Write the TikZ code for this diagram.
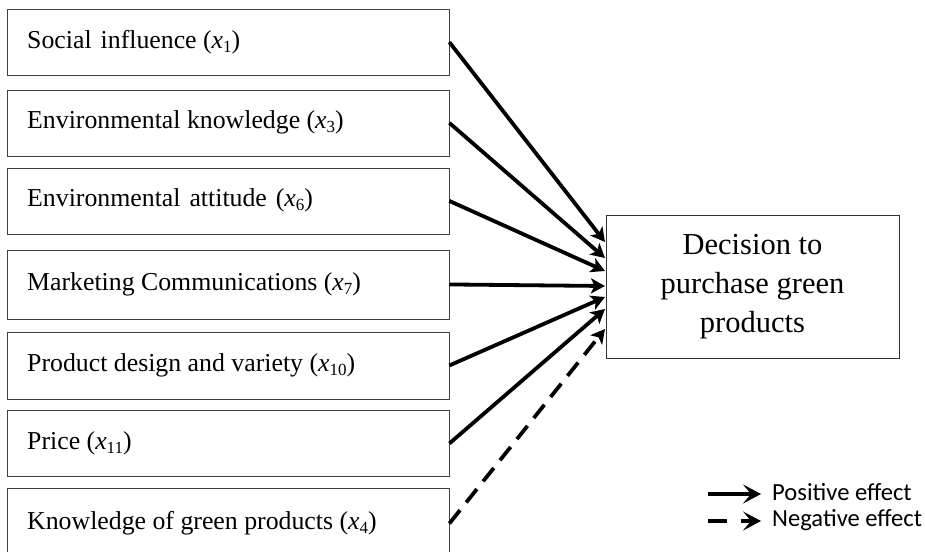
\documentclass[tikz,border=0pt]{standalone}
\usepackage{fontspec}
\setmainfont{Liberation Serif}
\newfontfamily\legendfont{Carlito}
\usetikzlibrary{arrows.meta}
\newcommand{\xv}[1]{\textit{x}\raisebox{-0.35ex}{\fontsize{17}{17}\selectfont #1}}
\begin{document}
\begin{tikzpicture}[x=1pt,y=-1pt,
  factor/.style={draw=black!75,line width=0.9pt,minimum width=441.2pt,anchor=north west,inner sep=0pt},
  factortext/.style={anchor=west,font=\fontsize{25.8}{29}\selectfont,inner sep=0pt},
  effect/.style={line width=3.8pt,-{Stealth[length=14pt,width=15pt,inset=3.5pt]}},
  legarrow/.style={line width=3.8pt,-{Stealth[length=18pt,width=19pt,inset=8pt]}}]
\useasboundingbox (0,0) rectangle (925,551);
\fill[white] (0,0) rectangle (925,551);
% factor boxes
\node[factor,minimum height=65.5pt] (b1) at (7.3,9) {};
\node[factor,minimum height=66pt] (b2) at (7.3,89.5) {};
\node[factor,minimum height=66pt] (b3) at (7.3,167.5) {};
\node[factor,minimum height=69pt] (b4) at (7.3,249.5) {};
\node[factor,minimum height=67pt] (b5) at (7.3,331.5) {};
\node[factor,minimum height=66pt] (b6) at (7.3,410) {};
\node[factor,minimum height=71pt] (b7) at (7.3,487.5) {};
% texts
\node[factortext] (t1) at (27,42) {Social\hspace{9pt}influence (\xv{1})};
\node[factortext] (t2) at (27,122.5) {Environmental knowledge (\xv{3})};
\node[factortext] (t3) at (27,200.5) {Environmental\hspace{9pt}attitude\hspace{9pt}(\xv{6})};
\node[factortext] (t4) at (27,284) {Marketing Communications (\xv{7})};
\node[factortext] (t5) at (27,365) {Product design and variety (\xv{10})};
\node[factortext] (t6) at (27,443) {Price (\xv{11})};
\node[factortext] (t7) at (27,523) {Knowledge of green products (\xv{4})};
% target
\node[draw=black!80,line width=0.9pt,minimum width=293pt,minimum height=142.5pt,anchor=north west,inner sep=0pt] (d) at (606,215) {};
\node[align=center,font=\fontsize{30.5}{39}\selectfont] (dt) at (752.5,286.5) {Decision to\\purchase green\\products};
% target end points
\coordinate (e1) at (605,242);
\coordinate (e2) at (605,258);
\coordinate (e3) at (605,271);
\coordinate (e4) at (605,286);
\coordinate (e5) at (605,297);
\coordinate (e6) at (605,309);
\coordinate (e7) at (605,329);
\draw[effect] (b1.east) -- (e1);
\draw[effect] (b2.east) -- (e2);
\draw[effect] (b3.east) -- (e3);
\draw[effect] (b4.east) -- (e4);
\draw[effect] (b5.east) -- (e5);
\draw[effect] (b6.east) -- (e6);
\draw[effect,dash pattern=on 17pt off 10pt] (b7.east) -- (e7);
% legend
\coordinate (p0) at (708,494);
\coordinate (p1) at (761,494);
\coordinate (n0) at (708,521);
\coordinate (n1) at (761,521);
\draw[legarrow] (p0) -- (p1);
\draw[legarrow,dash pattern=on 19pt off 14pt] (n0) -- (n1);
\node[anchor=west,inner sep=0pt,font=\legendfont\fontsize{24.6}{26}\selectfont] (lp) at (772,492) {Positive effect};
\node[anchor=west,inner sep=0pt,font=\legendfont\fontsize{24.6}{26}\selectfont] (ln) at (772,520) {Negative effect};
\end{tikzpicture}
\end{document}
